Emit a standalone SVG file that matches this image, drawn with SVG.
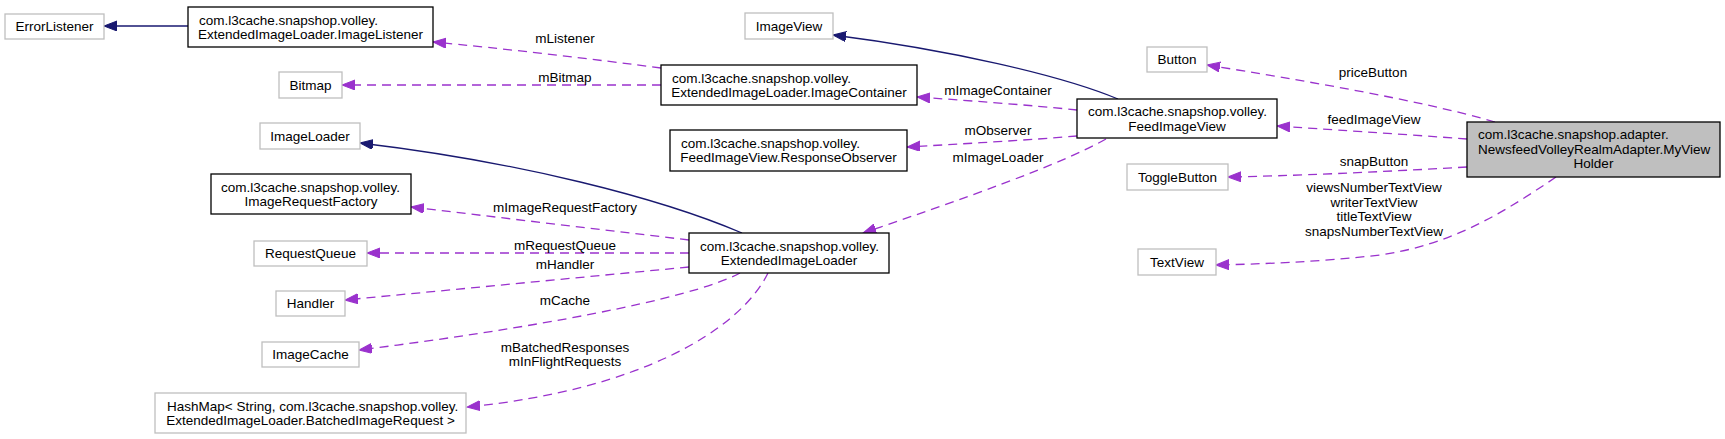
<svg xmlns="http://www.w3.org/2000/svg" width="1725" height="439" viewBox="0 0 1725 439">
<style>
text{font-family:"Liberation Sans",Arial,Helvetica,sans-serif;font-size:13.5px;fill:#000}
.m{text-anchor:middle}
.s{text-anchor:start}
.ext{fill:#fff;stroke:#bfbfbf;stroke-width:1.3}
.doc{fill:#fff;stroke:#000;stroke-width:1.3}
.cur{fill:#bfbfbf;stroke:#000;stroke-width:1.3}
.inh{fill:none;stroke:#191970;stroke-width:1.3;marker-end:url(#an)}
.use{fill:none;stroke:#9a32cd;stroke-width:1.3;stroke-dasharray:9,6;marker-end:url(#ap)}
</style>
<defs>
<marker id="an" markerUnits="userSpaceOnUse" markerWidth="14" markerHeight="11" refX="13" refY="5" orient="auto" viewBox="0 0 14 11">
<path d="M0,0 L13,5 L0,10 z" fill="#191970" stroke="#191970" stroke-dasharray="none"/>
</marker>
<marker id="ap" markerUnits="userSpaceOnUse" markerWidth="14" markerHeight="11" refX="13" refY="5" orient="auto" viewBox="0 0 14 11">
<path d="M0,0 L13,5 L0,10 z" fill="#9a32cd" stroke="#9a32cd" stroke-dasharray="none"/>
</marker>
</defs>
<rect width="1725" height="439" fill="#fff"/>
<g id="edges">
<path class="inh" d="M188,26 L104,26"/>
<path class="use" d="M661,68 C600,60 500,48 433,42"/>
<text class="m" x="565" y="43">mListener</text>
<path class="use" d="M661,85 L342,85"/>
<text class="m" x="565" y="82">mBitmap</text>
<path class="inh" d="M1118,99 C1060,75 950,50 833,35"/>
<path class="use" d="M1077,110 C1030,105 960,100 917,97"/>
<text class="m" x="998" y="95">mImageContainer</text>
<path class="use" d="M1077,136 C1030,140 960,144 907,147"/>
<text class="m" x="998" y="135">mObserver</text>
<path class="use" d="M1106,139 C1060,165 960,200 863,233"/>
<text class="m" x="998" y="162">mImageLoader</text>
<path class="inh" d="M742,233 C660,198 520,162 360,143"/>
<path class="use" d="M689,240 L411,207"/>
<text class="m" x="565" y="212">mImageRequestFactory</text>
<path class="use" d="M689,253 L367,253"/>
<text class="m" x="565" y="250">mRequestQueue</text>
<path class="use" d="M689,267 L345,300"/>
<text class="m" x="565" y="269">mHandler</text>
<path class="use" d="M740,273 C690,300 520,330 359,350"/>
<text class="m" x="565" y="305">mCache</text>
<path class="use" d="M768,273 C740,330 640,390 467,407"/>
<text class="m" x="565" y="352">mBatchedResponses</text>
<text class="m" x="565" y="366">mInFlightRequests</text>
<path class="use" d="M1495,122 C1420,100 1300,80 1207,65"/>
<text class="m" x="1373" y="77">priceButton</text>
<path class="use" d="M1467,139 C1400,134 1320,129 1277,126"/>
<text class="m" x="1374" y="124">feedImageView</text>
<path class="use" d="M1467,167 C1380,172 1290,176 1228,177"/>
<text class="m" x="1374" y="166">snapButton</text>
<path class="use" d="M1556,177 C1500,215 1450,245 1380,255 C1320,262 1260,264 1216,265"/>
<text class="m" x="1374" y="192">viewsNumberTextView</text>
<text class="m" x="1374" y="206.5">writerTextView</text>
<text class="m" x="1374" y="221">titleTextView</text>
<text class="m" x="1374" y="235.5">snapsNumberTextView</text>
</g>
<g id="n_errorlistener"><rect class="ext" x="5" y="14" width="99" height="25"/><text class="m" x="54.5" y="31">ErrorListener</text></g>
<g id="n_imagelistener"><rect class="doc" x="188" y="7" width="245" height="40"/><text class="s" x="199" y="24.5">com.l3cache.snapshop.volley.</text><text class="m" x="310.5" y="39">ExtendedImageLoader.ImageListener</text></g>
<g id="n_bitmap"><rect class="ext" x="279" y="72" width="63" height="26"/><text class="m" x="310.5" y="89.5">Bitmap</text></g>
<g id="n_imageloader"><rect class="ext" x="260" y="123" width="100" height="26"/><text class="m" x="310" y="140.5">ImageLoader</text></g>
<g id="n_imagerequestfactory"><rect class="doc" x="211" y="174" width="200" height="40"/><text class="s" x="221" y="191.5">com.l3cache.snapshop.volley.</text><text class="m" x="311" y="206">ImageRequestFactory</text></g>
<g id="n_requestqueue"><rect class="ext" x="254" y="241" width="113" height="25"/><text class="m" x="310.5" y="258">RequestQueue</text></g>
<g id="n_handler"><rect class="ext" x="276" y="291" width="69" height="25"/><text class="m" x="310.5" y="308">Handler</text></g>
<g id="n_imagecache"><rect class="ext" x="262" y="342" width="97" height="25"/><text class="m" x="310.5" y="359">ImageCache</text></g>
<g id="n_hashmap"><rect class="ext" x="155" y="393" width="311" height="40"/><text class="s" x="167" y="410.5">HashMap&lt; String, com.l3cache.snapshop.volley.</text><text class="m" x="310.5" y="425">ExtendedImageLoader.BatchedImageRequest &gt;</text></g>
<g id="n_imagecontainer"><rect class="doc" x="661" y="65" width="256" height="40"/><text class="s" x="672" y="82.5">com.l3cache.snapshop.volley.</text><text class="m" x="789" y="97">ExtendedImageLoader.ImageContainer</text></g>
<g id="n_responseobserver"><rect class="doc" x="670" y="130" width="237" height="41"/><text class="s" x="681" y="147.5">com.l3cache.snapshop.volley.</text><text class="m" x="788.5" y="162">FeedImageView.ResponseObserver</text></g>
<g id="n_extendedimageloader"><rect class="doc" x="689" y="233" width="200" height="40"/><text class="s" x="700" y="250.5">com.l3cache.snapshop.volley.</text><text class="m" x="789" y="265">ExtendedImageLoader</text></g>
<g id="n_imageview"><rect class="ext" x="745" y="13" width="88" height="26"/><text class="m" x="789" y="30.5">ImageView</text></g>
<g id="n_feedimageview"><rect class="doc" x="1077" y="99" width="200" height="39"/><text class="s" x="1088" y="116">com.l3cache.snapshop.volley.</text><text class="m" x="1177" y="130.5">FeedImageView</text></g>
<g id="n_button"><rect class="ext" x="1147" y="47" width="60" height="25"/><text class="m" x="1177" y="64">Button</text></g>
<g id="n_togglebutton"><rect class="ext" x="1127" y="164" width="101" height="26"/><text class="m" x="1177.5" y="181.5">ToggleButton</text></g>
<g id="n_textview"><rect class="ext" x="1138" y="249" width="78" height="26"/><text class="m" x="1177" y="266.5">TextView</text></g>
<g id="n_myviewholder"><rect class="cur" x="1467" y="122" width="253" height="55"/><text class="s" x="1478" y="139">com.l3cache.snapshop.adapter.</text><text class="s" x="1478" y="153.5">NewsfeedVolleyRealmAdapter.MyView</text><text class="m" x="1593.5" y="168">Holder</text></g>
</svg>
